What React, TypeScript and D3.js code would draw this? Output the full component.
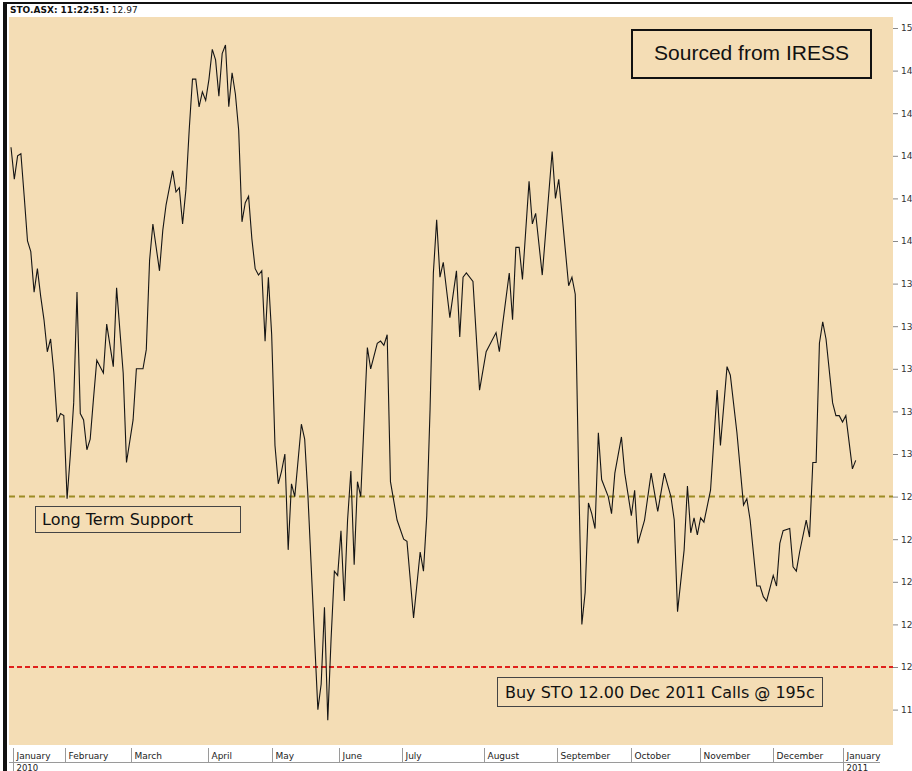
import { useRef, useEffect } from 'react';
import * as d3 from 'd3';

// trading-session index (0 = first session shown) and closing price
const sessions = [
  0, 1, 2, 3, 4, 5, 6, 7, 8, 9, 10, 11, 12, 13, 14, 15, 16, 17, 18, 19, 20, 21, 22, 23, 24, 25, 26, 28, 29, 31,
  32, 34, 35, 37, 38, 40, 41, 42, 43, 45, 46, 47, 49, 50, 51, 52, 53, 54, 55, 56, 57, 58, 59, 60, 61, 62, 63, 64, 65, 66,
  67, 68, 69, 70, 71, 72, 73, 74, 75, 76, 77, 78, 79, 80, 81, 82, 83, 84, 85, 86, 88, 89, 90, 92, 93, 94, 95, 96, 97, 98,
  99, 100, 101, 102, 103, 104, 105, 106, 108, 109, 111, 112, 113, 114, 115, 116, 117, 119, 120, 122, 124, 125, 126, 127, 128, 129, 130, 131, 133, 135,
  136, 137, 138, 140, 142, 144, 147, 148, 149, 151, 152, 153, 154, 155, 157, 158, 159, 161, 164, 165, 166, 169, 170, 171, 172, 173, 174, 175, 176, 177,
  178, 179, 181, 182, 183, 185, 186, 188, 189, 190, 192, 194, 196, 198, 200, 201, 202, 204, 205, 206, 207, 208, 209, 210, 212, 214, 215, 217, 218, 220,
  222, 223, 224, 226, 227, 228, 229, 231, 232, 233, 234, 236, 237, 238, 239, 241, 242, 243, 244, 245, 246, 247, 249, 250, 251, 252, 253, 255, 256,
];
const closes = [
  14.44, 14.29, 14.40, 14.41, 14.21, 14.00, 13.95, 13.76, 13.87, 13.74, 13.63, 13.48, 13.54, 13.38, 13.15, 13.19, 13.18, 12.79, 13.00, 13.24, 13.76, 13.19, 13.16, 13.02, 13.07, 13.26, 13.44, 13.38, 13.61, 13.41,
  13.78, 13.38, 12.96, 13.16, 13.40, 13.40, 13.49, 13.91, 14.08, 13.86, 14.05, 14.17, 14.33, 14.23, 14.25, 14.08, 14.24, 14.52, 14.76, 14.76, 14.63, 14.70, 14.66, 14.76, 14.90, 14.85, 14.68, 14.88, 14.92, 14.63,
  14.79, 14.69, 14.52, 14.09, 14.18, 14.21, 14.01, 13.87, 13.84, 13.86, 13.53, 13.83, 13.56, 13.04, 12.86, 12.92, 13.00, 12.55, 12.86, 12.80, 13.14, 13.07, 12.80, 12.13, 11.80, 11.92, 12.28, 11.75, 12.13, 12.45,
  12.43, 12.64, 12.31, 12.69, 12.92, 12.48, 12.87, 12.80, 13.50, 13.40, 13.52, 13.53, 13.51, 13.56, 12.87, 12.78, 12.69, 12.60, 12.59, 12.23, 12.54, 12.45, 12.71, 13.21, 13.85, 14.10, 13.83, 13.90, 13.64, 13.86,
  13.55, 13.83, 13.85, 13.81, 13.30, 13.48, 13.57, 13.48, 13.61, 13.85, 13.63, 13.97, 13.97, 13.82, 14.28, 14.08, 14.13, 13.84, 14.42, 14.20, 14.29, 13.79, 13.83, 13.75, 12.92, 12.20, 12.35, 12.77, 12.72, 12.65,
  13.10, 12.88, 12.80, 12.72, 12.91, 13.08, 12.91, 12.71, 12.83, 12.58, 12.69, 12.91, 12.73, 12.91, 12.80, 12.69, 12.26, 12.55, 12.85, 12.63, 12.70, 12.62, 12.70, 12.68, 12.83, 13.30, 13.04, 13.41, 13.37, 13.10,
  12.76, 12.79, 12.69, 12.38, 12.38, 12.33, 12.31, 12.43, 12.38, 12.58, 12.64, 12.65, 12.47, 12.45, 12.54, 12.69, 12.61, 12.96, 12.96, 13.52, 13.62, 13.54, 13.24, 13.18, 13.18, 13.15, 13.18, 12.93, 12.97,
];

const monthLabels = ['January', 'February', 'March', 'April', 'May', 'June', 'July', 'August', 'September', 'October', 'November', 'December', 'January'];
const monthStarts = [0.5, 16.4, 36.4, 59.7, 79, 99.4, 118.6, 143.3, 165.5, 187.9, 208.8, 230.9, 252];
const yearLabels = ['2010', '2011'];
const yearStarts = [0.5, 252];

const yTicks = [15, 14.8, 14.6, 14.4, 14.2, 14, 13.8, 13.6, 13.4, 13.2, 13, 12.8, 12.6, 12.4, 12.2, 12, 11.8];
const supportLevel = 12.8;
const strikeLevel = 12.0;

export default function App() {
  const svgRef = useRef<SVGSVGElement>(null);

  useEffect(() => {
    if (!svgRef.current) return;
    document.body.style.margin = '0';

    const W = 912;
    const H = 771;
    const svg = d3.select(svgRef.current);
    svg.selectAll('*').remove();
    svg.attr('width', W).attr('height', H);

    const plot = { left: 9, right: 893, top: 17, bottom: 745 };
    const font = 'Tahoma, "DejaVu Sans", sans-serif';

    const x = d3.scaleLinear().domain([0, 267.6]).range([11, 894]);
    const y = d3.scaleLinear().domain([11.8, 15]).range([709.6, 28]);

    svg.append('rect').attr('width', W).attr('height', H).attr('fill', '#ffffff');

    // plot background
    svg.append('rect')
      .attr('x', plot.left).attr('y', plot.top)
      .attr('width', plot.right - plot.left).attr('height', plot.bottom - plot.top)
      .attr('fill', '#f4ddb5');

    // frame: top rule and heavy left rule
    svg.append('rect').attr('x', 3).attr('y', 2).attr('width', W - 3).attr('height', 2).attr('fill', '#111');
    svg.append('rect').attr('x', 3).attr('y', 2).attr('width', 4).attr('height', H).attr('fill', '#111');

    // title
    const title = svg.append('text')
      .attr('x', 10).attr('y', 13)
      .attr('font-family', font).attr('font-size', 9).attr('fill', '#111');
    title.append('tspan').attr('font-weight', 700).text('STO.ASX: 11:22:51:');
    title.append('tspan').text(' 12.97');

    // right axis
    const yAxis = svg.append('g')
      .attr('transform', `translate(${plot.right},0)`)
      .call(
        d3.axisRight(y)
          .tickValues(yTicks)
          .tickSize(5)
          .tickPadding(3)
          .tickFormat((d) => String(Math.floor((d as number) + 1e-6)))
      );
    yAxis.select('.domain').remove();
    yAxis.selectAll('line').attr('stroke', '#8a8a8a');
    yAxis.selectAll('text')
      .attr('fill', '#333')
      .attr('font-size', 9)
      .attr('font-family', font);

    // support / strike reference lines
    svg.append('line')
      .attr('x1', plot.left).attr('x2', plot.right)
      .attr('y1', y(supportLevel)).attr('y2', y(supportLevel))
      .attr('stroke', '#9c8c24').attr('stroke-width', 2).attr('stroke-dasharray', '6,4');
    svg.append('line')
      .attr('x1', plot.left).attr('x2', plot.right)
      .attr('y1', y(strikeLevel)).attr('y2', y(strikeLevel))
      .attr('stroke', '#e0201c').attr('stroke-width', 2).attr('stroke-dasharray', '5,3');

    // price line
    const pts = sessions.map((s, i) => [s, closes[i]] as [number, number]);
    const line = d3.line<[number, number]>()
      .x((d) => x(d[0]))
      .y((d) => y(d[1]));
    svg.append('path')
      .datum(pts)
      .attr('d', line)
      .attr('fill', 'none')
      .attr('stroke', '#151515')
      .attr('stroke-width', 1.1)
      .attr('stroke-linejoin', 'miter');

    // annotation boxes
    const box = (bx: number, by: number, bw: number, bh: number, stroke: string, sw: number) =>
      svg.append('rect')
        .attr('x', bx).attr('y', by).attr('width', bw).attr('height', bh)
        .attr('fill', '#f4ddb5').attr('stroke', stroke).attr('stroke-width', sw);

    box(35.5, 506.5, 205, 26, '#444', 1);
    svg.append('text')
      .attr('x', 42).attr('y', 525)
      .attr('font-family', font).attr('font-size', 16).attr('fill', '#111')
      .text('Long Term Support');

    box(497.5, 677.5, 325, 29, '#444', 1);
    svg.append('text')
      .attr('x', 505).attr('y', 698)
      .attr('font-family', font).attr('font-size', 16).attr('fill', '#111')
      .text('Buy STO 12.00 Dec 2011 Calls @ 195c');

    box(632, 30, 239, 48, '#111', 2);
    svg.append('text')
      .attr('x', 751.5).attr('y', 60)
      .attr('text-anchor', 'middle')
      .attr('font-family', 'Arial, "Liberation Sans", sans-serif').attr('font-size', 21).attr('fill', '#111')
      .text('Sourced from IRESS');

    // month axis along the bottom
    const xAxis = svg.append('g');
    xAxis.append('line')
      .attr('x1', plot.left).attr('x2', 880)
      .attr('y1', 762.5).attr('y2', 762.5)
      .attr('stroke', '#9a9a9a');
    monthStarts.forEach((m, i) => {
      const mx = Math.round(x(m)) + 0.5;
      xAxis.append('line')
        .attr('x1', mx).attr('x2', mx).attr('y1', 748).attr('y2', 762)
        .attr('stroke', '#9a9a9a');
      xAxis.append('text')
        .attr('x', mx + 3).attr('y', 759)
        .attr('font-family', font).attr('font-size', 9).attr('fill', '#222')
        .text(monthLabels[i]);
    });
    yearStarts.forEach((m, i) => {
      const mx = Math.round(x(m)) + 0.5;
      xAxis.append('line')
        .attr('x1', mx).attr('x2', mx).attr('y1', 762).attr('y2', H)
        .attr('stroke', '#9a9a9a');
      xAxis.append('text')
        .attr('x', mx + 3).attr('y', 770.5)
        .attr('font-family', font).attr('font-size', 8.5).attr('fill', '#222')
        .text(yearLabels[i]);
    });
  }, []);

  return <svg ref={svgRef} style={{ display: 'block' }} />;
}
